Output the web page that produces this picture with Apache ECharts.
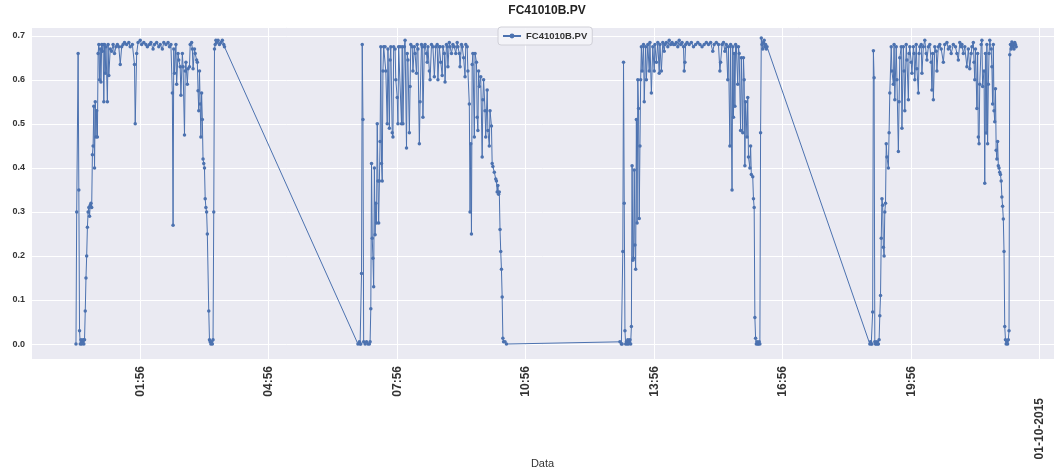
<!DOCTYPE html>
<html><head><meta charset="utf-8">
<script src="https://cdn.jsdelivr.net/npm/echarts@6/dist/echarts.min.js"></script>
<style>html,body{margin:0;padding:0;background:#fff}#c{width:1054px;height:470px}</style>
</head><body><div id="c"></div>
<script>
const seriesName = 'FC41010B.PV';
const xAxisName = 'Data';
const tickLabels = ['01:56', '04:56', '07:56', '10:56', '13:56', '16:56', '19:56', '01-10-2015'];
const yTickLabels = ['0.0', '0.1', '0.2', '0.3', '0.4', '0.5', '0.6', '0.7'];

// sample times: minutes after 00:00 of 01-10-2015
const seg1Minutes = [26,27,29,30,31,32,33,34,35,36,37,38,39,40,41,42,43,44,45,46,47,48,49,50,51,52,53,54,55,56,57,58,59,60,61,62,63,64,65,66,67,68,70,71,72,74,76,78,80,82,84,86,88,90,92,94,97,100,102,105,108,109,111,113,116,118,121,124,126,129,131,134,136,139,142,144,147,149,152,155,157,159,161,162,163,164,166,167,169,170,172,173,175,176,178,179,180,182,183,185,186,188,189,190,192,193,195,196,197,198,199,200,201,202,203,204,205,206,207,208,209,210,212,213,214,215,216,217,218,219,220,221,222,223,225,227,229,231,233,234];
const seg1Values = [0.00,0.30,0.66,0.35,0.03,0.00,0.01,0.00,0.005,0.01,0.00,0.01,0.075,0.15,0.20,0.265,0.30,0.31,0.29,0.315,0.32,0.31,0.43,0.45,0.54,0.40,0.55,0.47,0.53,0.47,0.66,0.68,0.60,0.67,0.595,0.68,0.665,0.68,0.55,0.68,0.615,0.675,0.55,0.68,0.61,0.67,0.665,0.68,0.66,0.675,0.68,0.675,0.635,0.675,0.68,0.685,0.68,0.685,0.675,0.68,0.635,0.50,0.66,0.685,0.69,0.68,0.685,0.68,0.675,0.68,0.685,0.67,0.68,0.685,0.675,0.68,0.67,0.685,0.68,0.685,0.675,0.68,0.57,0.27,0.67,0.615,0.68,0.59,0.66,0.645,0.63,0.565,0.66,0.63,0.475,0.62,0.64,0.59,0.625,0.63,0.68,0.685,0.67,0.625,0.67,0.66,0.645,0.64,0.575,0.53,0.62,0.545,0.47,0.57,0.51,0.42,0.41,0.40,0.33,0.31,0.30,0.25,0.075,0.01,0.005,0.00,0.005,0.00,0.01,0.30,0.67,0.68,0.69,0.685,0.69,0.68,0.685,0.69,0.68,0.675];

const seg2Minutes = [421,423,424,425,426,427,428,429,431,433,435,437,438,439,440,441,442,443,444,445,446,447,448,449,450,451,452,453,454,455,456,457,459,460,462,463,465,466,467,469,470,471,473,474,476,477,478,480,482,483,484,486,487,489,490,491,493,494,495,497,498,500,501,503,504,505,507,508,510,511,512,514,515,517,518,519,521,522,524,526,528,530,532,533,535,536,537,539,540,542,543,545,546,547,549,550,552,554,556,558,560,561,563,564,566,567,569,571,572,574,575,577,578,579,580,581,582,584,585,587,588,589,590,591,593,595,596,597,599,600,602,603,605,606,608,609,610,612,614,615,616,617,618,619,620,621,622,623,624,625,627,629];
const seg2Values = [0.00,0.005,0.00,0.00,0.16,0.68,0.51,0.005,0.00,0.005,0.00,0.00,0.005,0.08,0.41,0.24,0.195,0.13,0.40,0.248,0.32,0.275,0.50,0.37,0.275,0.37,0.46,0.675,0.41,0.37,0.62,0.675,0.675,0.62,0.50,0.67,0.49,0.645,0.675,0.48,0.47,0.675,0.67,0.60,0.56,0.50,0.675,0.675,0.50,0.675,0.50,0.675,0.69,0.445,0.66,0.645,0.48,0.585,0.68,0.675,0.62,0.675,0.66,0.615,0.68,0.67,0.455,0.55,0.68,0.675,0.515,0.675,0.68,0.66,0.64,0.675,0.62,0.60,0.68,0.675,0.607,0.675,0.68,0.60,0.675,0.675,0.64,0.61,0.675,0.66,0.595,0.68,0.675,0.63,0.685,0.675,0.66,0.68,0.675,0.66,0.685,0.675,0.66,0.63,0.68,0.675,0.65,0.607,0.68,0.675,0.62,0.545,0.30,0.455,0.25,0.635,0.66,0.47,0.66,0.64,0.515,0.485,0.62,0.585,0.607,0.425,0.555,0.60,0.53,0.47,0.577,0.485,0.45,0.53,0.495,0.41,0.403,0.39,0.375,0.37,0.345,0.36,0.34,0.345,0.26,0.21,0.17,0.107,0.013,0.005,0.005,0.00];

const seg3Minutes = [788,790,791,792,793,794,795,796,797,798,799,800,801,802,803,804,805,806,807,808,809,810,811,812,813,814,815,816,817,818,819,821,822,824,825,827,829,830,832,834,836,837,839,841,843,844,846,848,850,851,853,855,857,859,861,863,865,867,869,871,873,875,877,878,879,880,882,885,888,891,894,897,900,903,906,909,912,915,918,920,923,926,928,929,931,933,935,937,939,940,942,943,945,946,947,948,949,950,951,953,954,955,957,958,960,961,962,963,964,966,967,968,970,971,972,974,975,976,977,978,979,980,981,982,983,984,985,986,987,988,989,990,991,992,993,994];
const seg3Values = [0.005,0.00,0.00,0.21,0.64,0.32,0.03,0.00,0.005,0.00,0.01,0.00,0.005,0.01,0.00,0.04,0.405,0.19,0.195,0.395,0.225,0.17,0.51,0.275,0.60,0.535,0.285,0.45,0.60,0.675,0.62,0.68,0.55,0.675,0.60,0.68,0.62,0.685,0.57,0.675,0.62,0.68,0.64,0.685,0.615,0.68,0.62,0.685,0.665,0.68,0.685,0.675,0.69,0.68,0.685,0.68,0.68,0.685,0.675,0.69,0.68,0.685,0.675,0.62,0.64,0.68,0.685,0.68,0.685,0.675,0.68,0.685,0.68,0.675,0.68,0.685,0.68,0.685,0.665,0.68,0.685,0.68,0.62,0.64,0.68,0.685,0.665,0.68,0.60,0.675,0.45,0.68,0.35,0.675,0.515,0.66,0.54,0.68,0.675,0.59,0.675,0.66,0.485,0.65,0.48,0.65,0.60,0.405,0.55,0.47,0.56,0.425,0.40,0.45,0.385,0.38,0.33,0.31,0.06,0.013,0.00,0.005,0.00,0.00,0.005,0.00,0.48,0.695,0.68,0.67,0.685,0.69,0.675,0.68,0.67,0.675];

const seg4Minutes = [1138,1139,1140,1141,1142,1143,1144,1145,1146,1147,1148,1149,1150,1151,1152,1153,1154,1155,1156,1157,1158,1159,1160,1161,1162,1164,1165,1166,1168,1169,1171,1172,1173,1175,1176,1178,1179,1180,1182,1183,1185,1186,1187,1189,1190,1192,1193,1194,1196,1197,1199,1200,1201,1203,1204,1206,1207,1208,1210,1211,1213,1215,1217,1218,1220,1222,1224,1225,1226,1227,1229,1231,1232,1234,1236,1238,1241,1243,1246,1248,1250,1252,1255,1258,1260,1262,1264,1266,1267,1269,1271,1274,1276,1278,1280,1281,1283,1284,1285,1286,1288,1289,1290,1291,1292,1294,1295,1296,1298,1299,1300,1301,1302,1303,1304,1305,1306,1308,1309,1310,1311,1312,1313,1314,1315,1316,1317,1318,1319,1320,1321,1322,1323,1324,1325,1326,1327,1328,1329,1330,1331,1332,1333,1334,1335,1336,1337,1338,1339,1340,1341,1342,1343];
const seg4Values = [0.00,0.005,0.00,0.00,0.073,0.666,0.605,0.005,0.00,0.00,0.005,0.00,0.00,0.01,0.064,0.11,0.24,0.33,0.315,0.22,0.20,0.30,0.32,0.455,0.425,0.40,0.48,0.57,0.675,0.62,0.59,0.68,0.555,0.675,0.60,0.437,0.55,0.65,0.675,0.49,0.675,0.62,0.53,0.68,0.645,0.555,0.66,0.675,0.64,0.615,0.675,0.66,0.60,0.68,0.625,0.57,0.66,0.675,0.68,0.615,0.675,0.69,0.66,0.645,0.675,0.68,0.64,0.577,0.66,0.555,0.675,0.665,0.62,0.675,0.68,0.67,0.64,0.68,0.685,0.67,0.675,0.66,0.68,0.675,0.66,0.645,0.685,0.675,0.68,0.66,0.675,0.63,0.67,0.625,0.66,0.675,0.685,0.64,0.60,0.67,0.535,0.66,0.47,0.455,0.59,0.68,0.69,0.585,0.62,0.365,0.66,0.479,0.68,0.455,0.59,0.66,0.69,0.67,0.63,0.545,0.68,0.53,0.505,0.58,0.44,0.42,0.46,0.405,0.40,0.39,0.385,0.37,0.334,0.313,0.284,0.21,0.04,0.01,0.00,0.005,0.00,0.01,0.03,0.657,0.68,0.67,0.686,0.675,0.68,0.67,0.685,0.68,0.675];

const minutes = [].concat(seg1Minutes, seg2Minutes, seg3Minutes, seg4Minutes);
const values = [].concat(seg1Values, seg2Values, seg3Values, seg4Values);

// axis: ticks every 3 h counted from 22:56 of the previous day
const tickOrigin = -64;
const tickStep = 180;
const xRange = [-37, 1396];
const yRange = [-0.034, 0.72];

const FONT = "'Liberation Sans', Arial, sans-serif";
const chart = echarts.init(document.getElementById('c'), null, {renderer: 'canvas'});
const data = minutes.map((m, i) => [m - tickOrigin, values[i]]);

chart.setOption({
  animation: false,
  backgroundColor: '#ffffff',
  title: {
    text: seriesName,
    left: 542, top: 0, textAlign: 'center',
    textStyle: {fontFamily: FONT, fontSize: 12, fontWeight: 'bold', color: '#222'}
  },
  legend: {
    data: [seriesName],
    left: 498, top: 27,
    itemWidth: 18, itemHeight: 6, itemGap: 5,
    padding: [4, 5, 4, 4],
    backgroundColor: 'rgba(244,244,248,0.9)',
    borderColor: '#d0d0d8', borderWidth: 1, borderRadius: 3,
    textStyle: {fontFamily: FONT, fontSize: 9.5, fontWeight: 'bold', color: '#333'}
  },
  grid: {
    left: 31, right: 0, top: 27, bottom: 111,
    outerBoundsMode: 'none', containLabel: false,
    show: true, backgroundColor: '#EAEAF2', borderWidth: 0
  },
  xAxis: {
    type: 'value',
    min: xRange[0] - tickOrigin, max: xRange[1] - tickOrigin,
    minInterval: tickStep, maxInterval: tickStep, splitNumber: 8,
    name: xAxisName, nameLocation: 'middle', nameGap: 99, nameMoveOverlap: false,
    nameTextStyle: {fontFamily: "'Liberation Sans Narrow', " + FONT, fontSize: 11, color: '#333'},
    axisLine: {show: false}, axisTick: {show: false},
    splitLine: {show: true, lineStyle: {color: '#ffffff', width: 1}},
    axisLabel: {
      rotate: 90, margin: 7, showMinLabel: false, showMaxLabel: false,
      fontFamily: FONT, fontSize: 12, fontWeight: 'bold', color: '#333',
      formatter: function (v) {
        const k = Math.round(v / tickStep);
        if (Math.abs(v - k * tickStep) > 1e-6) return '';
        const lab = tickLabels[k - 1];
        if (!lab) return '';
        return k - 1 === tickLabels.length - 1 ? '{d|' + lab + '}' : lab;
      },
      rich: {d: {fontFamily: FONT, fontSize: 12, fontWeight: 'bold', color: '#333', padding: [0, 32, 0, 0]}}
    }
  },
  yAxis: {
    type: 'value',
    min: yRange[0], max: yRange[1],
    minInterval: 0.1, maxInterval: 0.1,
    axisLine: {show: false}, axisTick: {show: false},
    splitLine: {show: true, lineStyle: {color: '#ffffff', width: 1}},
    axisLabel: {
      margin: 6, showMinLabel: false, showMaxLabel: false,
      fontFamily: FONT, fontSize: 9, fontWeight: 'bold', color: '#333',
      formatter: function (v) {
        const k = Math.round(v * 10);
        if (Math.abs(v * 10 - k) > 1e-6) return '';
        return yTickLabels[k] || '';
      }
    }
  },
  series: [{
    name: seriesName,
    type: 'line',
    data: data,
    symbol: 'circle', symbolSize: 3.5, showSymbol: true, showAllSymbol: true,
    itemStyle: {color: '#4C72B0'},
    lineStyle: {color: '#4C72B0', width: 1},
    emphasis: {disabled: true}
  }]
});
</script></body></html>
